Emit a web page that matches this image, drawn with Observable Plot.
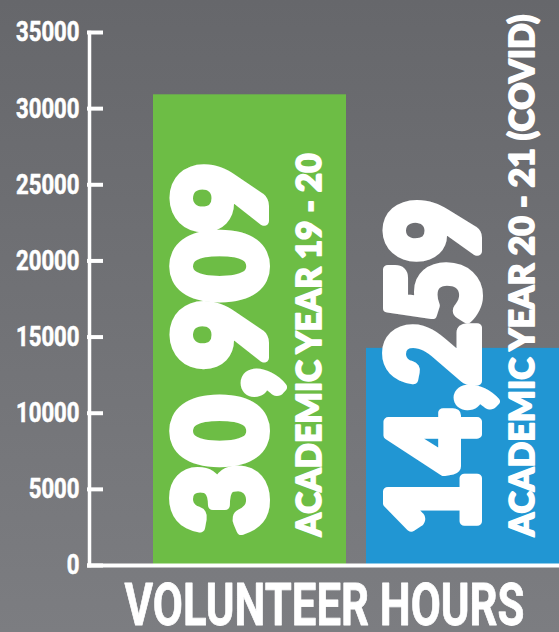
<!DOCTYPE html>
<html><head><meta charset="utf-8">
<script src="https://cdn.jsdelivr.net/npm/d3@7"></script>
<script src="https://cdn.jsdelivr.net/npm/@observablehq/plot@0.6"></script>
<style>
html,body{margin:0;padding:0;}
body{width:559px;height:632px;overflow:hidden;background:linear-gradient(#66676b,#7c7d81);}
svg{display:block;}
</style></head><body><div id="chart"></div>
<script>
// ---- data ----
const periods = ["ACADEMIC YEAR 19 - 20", "ACADEMIC YEAR 20 - 21 (COVID)"];
const hours = [30909, 14259];
const barColors = ["#6dbd45", "#2196d3"];
const yTicks = [0, 5000, 10000, 15000, 20000, 25000, 30000, 35000];
const axisTitle = "VOLUNTEER HOURS";

// ---- style constants ----
const numLength = [370, 334];
const subLength = [383, 522];
const tickCharWidth = 12.7;
const titleLength = 400;

const data = periods.map((p, i) => ({period: p, hours: hours[i], color: barColors[i]}));
const fmt = d3.format(",");

const chart = Plot.plot({
  width: 559, height: 632,
  marginLeft: 89, marginRight: 0, marginTop: 32, marginBottom: 67,
  style: {background: "transparent", overflow: "visible"},
  x: {domain: periods, paddingInner: 0.096, paddingOuter: 0.149, align: 1, axis: null},
  y: {domain: [0, 35000], axis: null},
  marks: [
    Plot.barY(data, {x: "period", y: "hours", fill: "color"}),
    Plot.text(data, {x: "period", y: 0, text: d => fmt(d.hours), rotate: -90, textAnchor: "start", lineAnchor: "middle",
      dx: -25, dy: -32, fontSize: 122, fontWeight: 900, fontFamily: "Lato, 'DejaVu Sans', sans-serif",
      fill: "white", stroke: "white", strokeWidth: 10, strokeLinejoin: "round"}),
    Plot.text(data, {x: "period", y: 0, text: "period", rotate: -90, textAnchor: "start", lineAnchor: "middle",
      dx: 60, dy: -29, fontSize: 35, fontWeight: 900, fontFamily: "Lato, 'DejaVu Sans', sans-serif",
      fill: "white", stroke: "white", strokeWidth: 1.8, strokeLinejoin: "round"}),
    Plot.ruleY([0], {stroke: "white", strokeWidth: 4, insetLeft: -2}),
    Plot.frame({anchor: "left", stroke: "white", strokeWidth: 3.5}),
    Plot.tickY(yTicks, {y: d => d, stroke: "white", strokeWidth: 4, insetLeft: -2, insetRight: 456}),
    Plot.text(yTicks, {y: d => d, text: d => String(d), frameAnchor: "left", textAnchor: "end", lineAnchor: "middle",
      dx: -10, fontSize: 28, fontWeight: 700, fontFamily: "Roboto, sans-serif",
      fill: "white", stroke: "white", strokeWidth: 0.6}),
    Plot.text([axisTitle], {text: d => d, frameAnchor: "bottom", lineAnchor: "top", dy: 18,
      fontSize: 59, fontWeight: 700, fontFamily: "Roboto, sans-serif",
      fill: "white", stroke: "white", strokeWidth: 0.8})
  ]
});

document.getElementById("chart").appendChild(chart);

// compress text to the reference's condensed widths
const groups = d3.select(chart).selectAll('g[aria-label="text"]').nodes();
d3.select(groups[0]).selectAll("text").attr("textLength", (d, i) => numLength[i]).attr("lengthAdjust", "spacingAndGlyphs");
d3.select(groups[1]).selectAll("text").attr("textLength", (d, i) => subLength[i]).attr("lengthAdjust", "spacingAndGlyphs");
d3.select(groups[2]).selectAll("text").attr("textLength", function() { return this.textContent.length * tickCharWidth; }).attr("lengthAdjust", "spacingAndGlyphs");
d3.select(groups[3]).selectAll("text").attr("textLength", titleLength).attr("lengthAdjust", "spacingAndGlyphs");
</script>
</body></html>
